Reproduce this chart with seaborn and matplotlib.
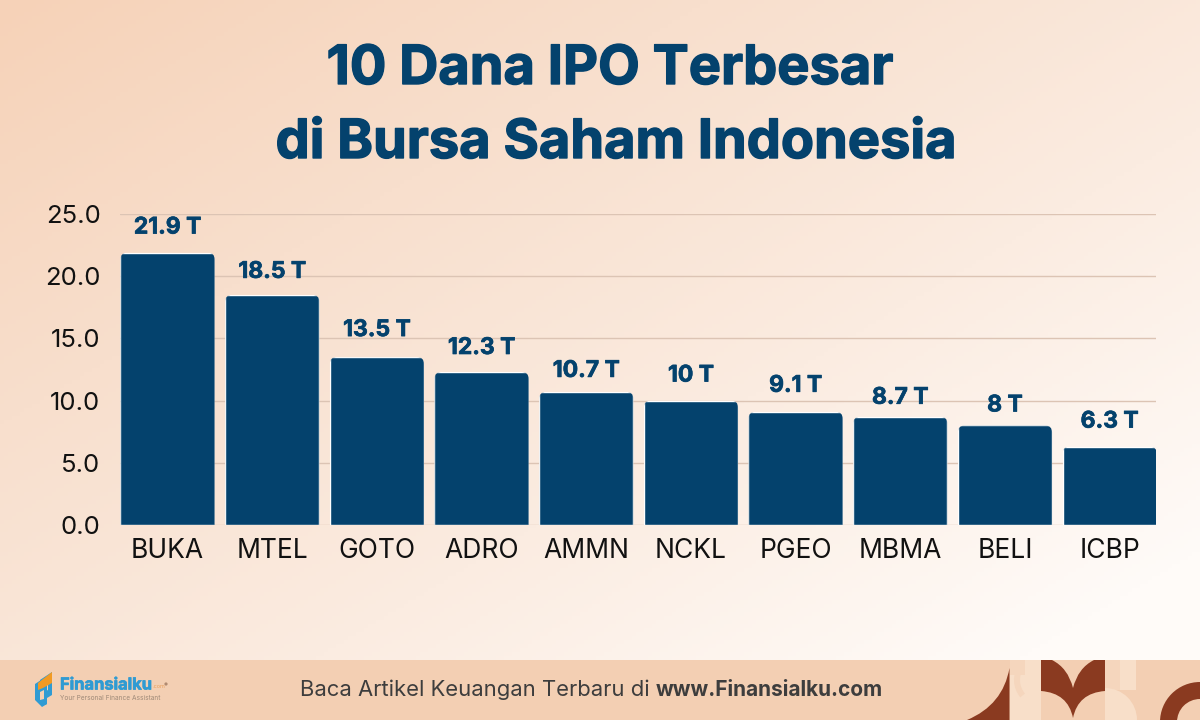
import numpy as np
import matplotlib
matplotlib.use("Agg")
import matplotlib.pyplot as plt
import matplotlib.patheffects as pe
from matplotlib.patches import FancyBboxPatch, Rectangle, Polygon, Wedge, PathPatch, Circle
from matplotlib.path import Path
from matplotlib.transforms import IdentityTransform
from matplotlib.colors import LinearSegmentedColormap
import seaborn as sns

tickers = ["BUKA", "MTEL", "GOTO", "ADRO", "AMMN", "NCKL", "PGEO", "MBMA", "BELI", "ICBP"]
funds = [21.9, 18.5, 13.5, 12.3, 10.7, 10.0, 9.1, 8.7, 8.0, 6.3]
value_labels = ["21.9 T", "18.5 T", "13.5 T", "12.3 T", "10.7 T", "10 T", "9.1 T", "8.7 T", "8 T", "6.3 T"]
y_ticks = [0, 5, 10, 15, 20, 25]
title_lines = ["10 Dana IPO Terbesar", "di Bursa Saham Indonesia"]
label_gaps = [25, 23, 27, 24, 21, 25, 26, 19, 20, 25]

NAVY = "#04426D"
W, H = 1200, 720
sns.set_theme(style="white")
plt.rcParams["font.family"] = ["Inter", "DejaVu Sans"]

fig = plt.figure(figsize=(12, 7.2), dpi=100)

# background gradient
bg = fig.add_axes([0, 0, 1, 1], zorder=0)
yy, xx = np.mgrid[0:1:180j, 0:1:300j]
t = (xx * 0.62 + yy * 0.62)
cmap = LinearSegmentedColormap.from_list("bg", ["#F6D2B8", "#F8DFCD", "#FBECE1", "#FFFBF8"])
bg.imshow(t, cmap=cmap, extent=[0, W, H, 0], aspect="auto", vmin=0, vmax=1.1)
bg.set_xlim(0, W); bg.set_ylim(H, 0); bg.axis("off")

# footer band and decoration
PEACH = "#F3CFB3"; dark = "#8A3A20"; pale = "#F8DFC9"; mid = "#F5D6BD"
bg.add_patch(Rectangle((0, 660), W, 60, fc=PEACH, ec="none"))
bg.add_patch(Rectangle((1010, 660), 31, 60, fc=mid, ec="none"))
bg.add_patch(Rectangle((1025, 660), 16, 15, fc=pale, ec="none"))
bg.add_patch(Rectangle((1010, 675), 31, 45, fc=pale, ec="none"))
bg.add_patch(Wedge((1041, 680), 27, 140, 215, width=6, fc=mid, ec="none"))
bg.add_patch(Rectangle((1105, 660), 15, 30, fc=mid, ec="none"))
bg.add_patch(Rectangle((1120, 660), 16, 30, fc=pale, ec="none"))
bg.add_patch(Wedge((1105, 720), 32, 270, 360, fc=pale, ec="none"))
M, L, Q = Path.MOVETO, Path.LINETO, Path.CURVE3
heart = Path(
    [(1041, 660), (1052, 660), (1068, 668), (1073, 688), (1078, 668), (1094, 660), (1105, 660),
     (1105, 691), (1078, 693), (1073, 718), (1068, 693), (1041, 691), (1041, 660)],
    [M, L, Q, Q, Q, Q, L, L, Q, Q, Q, Q, L])
bg.add_patch(PathPatch(heart, fc=dark, ec="none"))
corner = Path([(1009.5, 668), (1003, 705), (967, 720), (1009.5, 720), (1009.5, 668)], [M, Q, Q, L, L])
bg.add_patch(PathPatch(corner, fc=dark, ec="none"))
bg.add_patch(Wedge((1200, 722), 40, 180, 270, width=17, fc=dark, ec="none"))

# logo
bg.add_patch(Polygon([(35, 684), (47, 676), (47, 704), (42, 707), (35, 700)], fc="#2F9BD3", ec="none"))
bg.add_patch(Polygon([(40, 680), (52, 672), (52, 695), (47, 698), (47, 704), (44, 705), (44, 692), (48, 690), (48, 684), (40, 688)],
                     fc="#2F9BD3", ec="none"))
bg.add_patch(Polygon([(38, 683), (52, 672), (52, 683), (43, 688), (38, 690)], fc="#F29A22", ec="none"))
bg.add_patch(Polygon([(40, 692), (44, 690), (44, 699), (40, 700)], fc=PEACH, ec="none"))
fin = bg.text(60, 685, "Finansialku", color="#2F9BD3", fontsize=11.9, fontweight="bold", va="center", ha="left")
fin.set_path_effects([pe.withStroke(linewidth=0.5, foreground="#2F9BD3")])
bg.text(153, 686, ".com", color="#E8A05C", fontsize=4, va="center", ha="left")
bg.add_patch(Circle((166, 684), 1.6, fc="#B08A70", ec="none"))
bg.text(60, 698, "Your Personal Finance Assistant", color="#A08A78", fontsize=4.7, va="center", ha="left")

# footer text
bg.text(300, 690, "Baca Artikel Keuangan Terbaru di", color="#3D3D3D", fontsize=15.85, va="center", ha="left")
www = bg.text(656, 690, "www.Finansialku.com", color="#3D3D3D", fontsize=15, fontweight="bold", va="center", ha="left")

# title
for line, x, y in zip(title_lines, [610, 616], [84, 158]):
    txt = bg.text(x, y, line, color=NAVY, fontsize=39, fontweight="bold", ha="center", va="baseline")
    txt.set_path_effects([pe.withStroke(linewidth=1.0, foreground=NAVY)])

# chart
ax = fig.add_axes([120 / W, 1 - 525 / H, (1156 - 120) / W, (525 - 214) / H], zorder=1)
ax.patch.set_alpha(0)
sns.barplot(x=tickers, y=funds, color=NAVY, saturation=1, width=0.9, ax=ax)
ax.set_xlim(-0.454, 9.443)
ax.set_ylim(0, 25)
ax.set_yticks(y_ticks, [f"{v:.1f}" for v in y_ticks])
ax.tick_params(axis="y", length=0, labelsize=18.5, pad=14, labelcolor="#111111")
ax.tick_params(axis="x", length=0, labelsize=19, pad=9, labelcolor="#111111")
ax.yaxis.grid(True, color="#DCC4B4", lw=1)
ax.xaxis.grid(False)
ax.set_axisbelow(True)
for s in ax.spines.values():
    s.set_visible(False)
fig.canvas.draw()
for bar, lab, v, i, gap in zip(ax.patches, value_labels, funds, range(10), label_gaps):
    x0, y0 = ax.transData.transform((bar.get_x(), 0))
    x1, y1 = ax.transData.transform((bar.get_x() + bar.get_width(), v))
    r = 7
    clip = FancyBboxPatch((x0 + r, y0 - 20), x1 - x0 - 2 * r, y1 - y0 + 20 - r,
                          boxstyle=f"round,pad={r},rounding_size={r}", transform=IdentityTransform())
    bar.set_clip_path(clip)
    t_lab = ax.annotate(lab, (i, v), xytext=(0, gap), textcoords="offset pixels", ha="center", va="center",
                        color=NAVY, fontsize=16.5, fontweight="bold")
    t_lab.set_path_effects([pe.withStroke(linewidth=0.5, foreground=NAVY)])
fig.savefig("out.png", dpi=100)
